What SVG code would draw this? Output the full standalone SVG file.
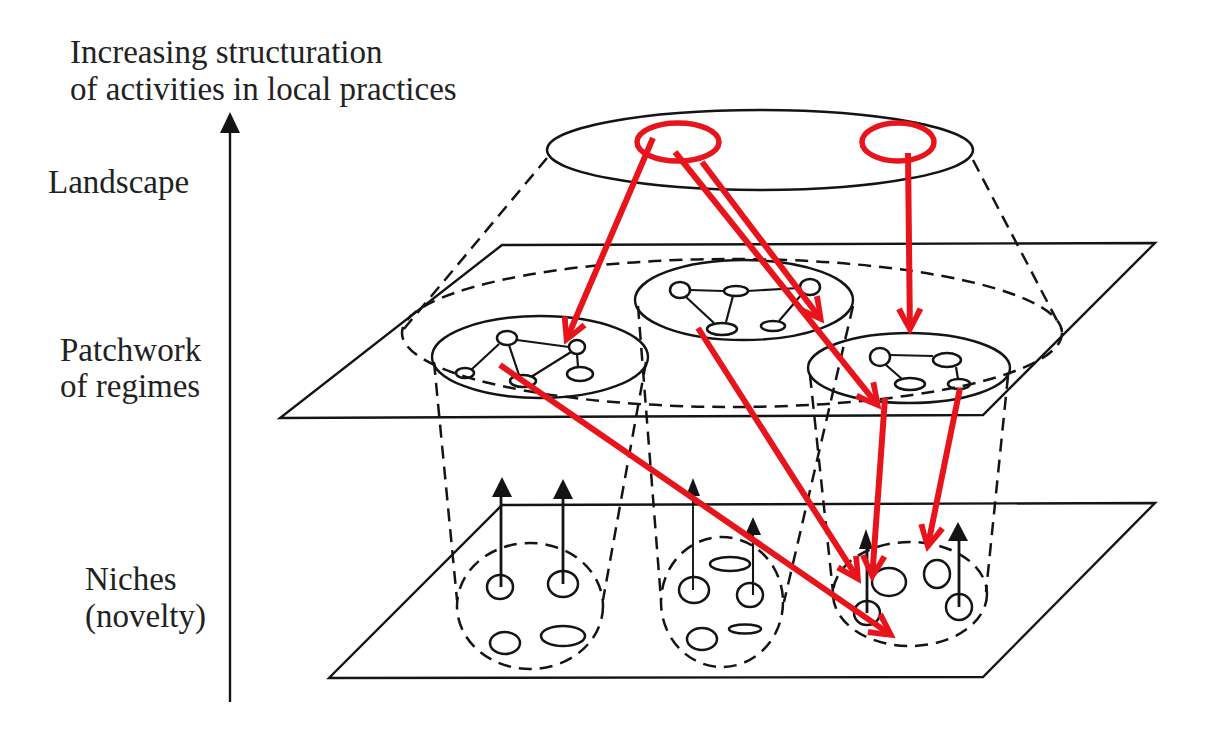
<svg xmlns="http://www.w3.org/2000/svg" width="1210" height="733" viewBox="0 0 1210 733">
<defs>
<style>
.txt{font-family:"Liberation Serif","Times New Roman",serif;font-size:33px;fill:#222222}
.ln{fill:none;stroke:#141414;stroke-width:2.4}
.dash{fill:none;stroke:#141414;stroke-width:2.5;stroke-dasharray:13 8}
.nd{fill:none;stroke:#141414;stroke-width:2.5}
.edge{fill:none;stroke:#141414;stroke-width:2.2}
.stem{fill:none;stroke:#141414;stroke-width:2.8}
.head{fill:#141414;stroke:none}
.red{fill:none;stroke:#e8141c;stroke-width:6}
.rc{fill:none;stroke:#e8141c;stroke-width:5.5}
</style>
<marker id="rh" markerUnits="userSpaceOnUse" viewBox="-30 -16 34 32" markerWidth="34" markerHeight="32" refX="-7" refY="0" orient="auto">
<path d="M1,0 L-24,-13.5 L-26.5,-8 L-10,0 L-26.5,8 L-24,13.5 Z" fill="#e8141c"/>
</marker>
</defs>
<rect width="1210" height="733" fill="#ffffff"/>

<g id="labels">
<text class="txt" x="70" y="63">Increasing structuration</text>
<text class="txt" x="70" y="100">of activities in local practices</text>
<text class="txt" x="48" y="193">Landscape</text>
<text class="txt" x="60" y="361">Patchwork</text>
<text class="txt" x="60" y="397">of regimes</text>
<text class="txt" x="85" y="590">Niches</text>
<text class="txt" x="85" y="627">(novelty)</text>
</g>

<g id="axis">
<line class="ln" x1="230" y1="702" x2="230" y2="128"/>
<polygon class="head" points="230,112 220,133 240,133"/>
</g>

<g id="landscape">
<ellipse class="ln" cx="760" cy="150" rx="213" ry="40"/>
<ellipse class="rc" cx="678" cy="142" rx="41" ry="19"/>
<ellipse class="rc" cx="898" cy="142" rx="36" ry="19"/>
<line class="dash" x1="547" y1="158" x2="403" y2="330"/>
<line class="dash" x1="973" y1="160" x2="1062" y2="330"/>
<ellipse class="dash" cx="732" cy="333" rx="330" ry="74"/>
</g>

<g id="regime-plane">
<polygon class="ln" points="502,245 1155,243 983,415 280,418"/>
</g>

<g id="regime-left">
<ellipse class="ln" cx="540" cy="357" rx="108" ry="41"/>
<line class="edge" x1="499" y1="344" x2="471" y2="370"/>
<line class="edge" x1="509" y1="345" x2="519" y2="375"/>
<line class="edge" x1="517" y1="340" x2="569" y2="347"/>
<line class="edge" x1="531" y1="377" x2="571" y2="352"/>
<line class="edge" x1="577" y1="354" x2="578" y2="367"/>
<ellipse class="nd" cx="507" cy="338" rx="10" ry="7"/>
<ellipse class="nd" cx="465" cy="373" rx="9" ry="5"/>
<ellipse class="nd" cx="523" cy="381" rx="13" ry="6"/>
<ellipse class="nd" cx="577" cy="347" rx="8" ry="7"/>
<ellipse class="nd" cx="580" cy="374" rx="13" ry="7"/>
</g>

<g id="regime-middle">
<ellipse class="ln" cx="744" cy="300" rx="109" ry="40"/>
<line class="edge" x1="690" y1="290" x2="723" y2="291"/>
<line class="edge" x1="686" y1="297" x2="714" y2="323"/>
<line class="edge" x1="733" y1="296" x2="726" y2="322"/>
<line class="edge" x1="747" y1="291" x2="799" y2="288"/>
<line class="edge" x1="802" y1="294" x2="779" y2="321"/>
<ellipse class="nd" cx="680" cy="290" rx="10" ry="8"/>
<ellipse class="nd" cx="736" cy="291" rx="12" ry="5"/>
<ellipse class="nd" cx="722" cy="329" rx="15" ry="6"/>
<ellipse class="nd" cx="773" cy="326" rx="12" ry="5"/>
<ellipse class="nd" cx="810" cy="287" rx="10" ry="8"/>
</g>

<g id="regime-right">
<ellipse class="ln" cx="909" cy="368" rx="101" ry="35"/>
<line class="edge" x1="890" y1="355" x2="933" y2="356"/>
<line class="edge" x1="886" y1="365" x2="902" y2="379"/>
<line class="edge" x1="956" y1="367" x2="958" y2="379"/>
<ellipse class="nd" cx="880" cy="357" rx="10" ry="9"/>
<ellipse class="nd" cx="947" cy="360" rx="14" ry="7"/>
<ellipse class="nd" cx="910" cy="384" rx="15" ry="6"/>
<ellipse class="nd" cx="959" cy="384" rx="11" ry="5"/>
</g>

<g id="funnels">
<line class="dash" x1="434" y1="362" x2="457" y2="600"/>
<line class="dash" x1="646" y1="362" x2="603" y2="600"/>
<line class="dash" x1="638" y1="306" x2="661" y2="600"/>
<line class="dash" x1="853" y1="306" x2="784" y2="602"/>
<line class="dash" x1="810" y1="375" x2="833" y2="592"/>
<line class="dash" x1="1008" y1="376" x2="986" y2="592"/>
</g>

<g id="niche-plane">
<polygon class="ln" points="502,505 1155,503 983,677 329,678"/>
</g>

<g id="niche-left">
<ellipse class="dash" cx="530" cy="606" rx="73" ry="63"/>
<ellipse class="nd" cx="500" cy="587" rx="13" ry="12"/>
<ellipse class="nd" cx="563" cy="584" rx="15" ry="13"/>
<ellipse class="nd" cx="505" cy="643" rx="15" ry="11"/>
<ellipse class="nd" cx="563" cy="636" rx="22" ry="10"/>
<line class="stem" x1="501" y1="587" x2="501" y2="494"/>
<polygon class="head" points="502,477 492,497 512,497"/>
<line class="stem" x1="563" y1="584" x2="563" y2="496"/>
<polygon class="head" points="563,479 553,499 573,499"/>
</g>

<g id="niche-middle">
<ellipse class="dash" cx="722" cy="602" rx="61" ry="65"/>
<ellipse class="nd" cx="694" cy="590" rx="15" ry="13"/>
<ellipse class="nd" cx="750" cy="595" rx="13" ry="12"/>
<ellipse class="nd" cx="730" cy="564" rx="20" ry="7"/>
<ellipse class="nd" cx="702" cy="639" rx="15" ry="11"/>
<ellipse class="nd" cx="745" cy="629" rx="16" ry="4.5"/>
<line class="stem" style="stroke-width:1.9" x1="693" y1="590" x2="693" y2="494"/>
<polygon class="head" points="693,478 686,496 700,496"/>
<line class="stem" style="stroke-width:2.1" x1="753" y1="595" x2="753" y2="533"/>
<polygon class="head" points="753,517 745,535 761,535"/>
</g>

<g id="niche-right">
<ellipse class="dash" cx="910" cy="594" rx="77" ry="52"/>
<ellipse class="nd" cx="867" cy="613" rx="13" ry="12"/>
<ellipse class="nd" cx="889" cy="582" rx="17" ry="14"/>
<ellipse class="nd" cx="937" cy="574" rx="13" ry="14"/>
<ellipse class="nd" cx="959" cy="607" rx="13" ry="13"/>
<line class="stem" x1="867" y1="613" x2="867" y2="546"/>
<polygon class="head" points="866,529 859,549 873,549"/>
<line class="stem" x1="959" y1="607" x2="959" y2="539"/>
<polygon class="head" points="958,522 948,541 968,541"/>
</g>

<g id="connectors">
<line class="red" marker-end="url(#rh)" x1="653" y1="138" x2="567.4" y2="337.5"/>
<line class="red" marker-end="url(#rh)" x1="675" y1="152" x2="876.3" y2="403.3"/>
<line class="red" marker-end="url(#rh)" x1="702" y1="162" x2="819.4" y2="317.2"/>
<line class="red" marker-end="url(#rh)" x1="908" y1="153" x2="909.9" y2="327"/>
<line class="red" marker-end="url(#rh)" x1="500" y1="365" x2="889.1" y2="633.6"/>
<line class="red" marker-end="url(#rh)" x1="698" y1="328" x2="856.8" y2="577"/>
<line class="red" marker-end="url(#rh)" x1="885" y1="398" x2="872.4" y2="574"/>
<line class="red" marker-end="url(#rh)" x1="960" y1="388" x2="928.2" y2="544.1"/>
</g>
</svg>
